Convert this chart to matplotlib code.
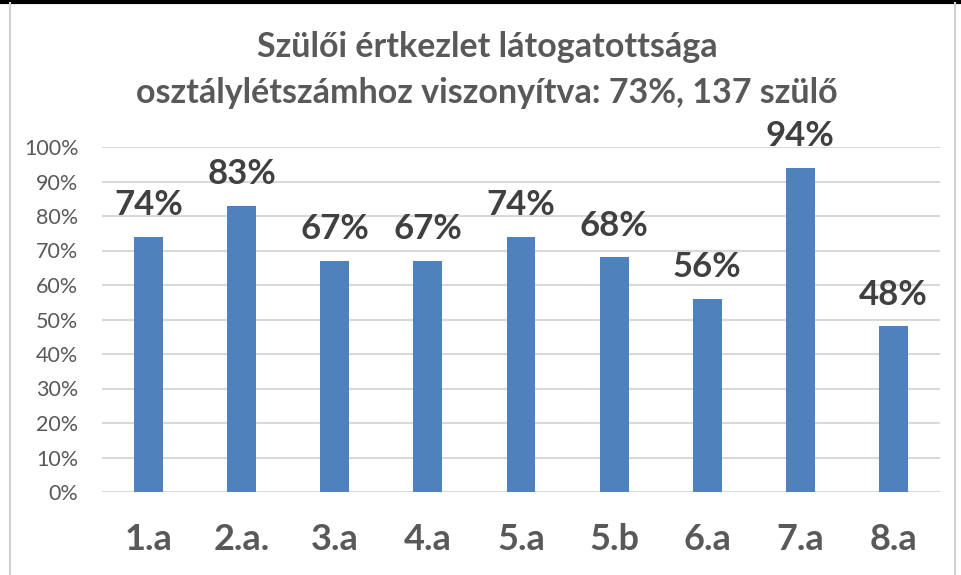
import numpy as np
import matplotlib.pyplot as plt
from matplotlib.lines import Line2D

categories = ['1.a', '2.a.', '3.a', '4.a', '5.a', '5.b', '6.a', '7.a', '8.a']
values = [74, 83, 67, 67, 74, 68, 56, 94, 48]
title_lines = ['Szülői értkezlet látogatottsága',
               'osztálylétszámhoz viszonyítva: 73%, 137 szülő']

plt.rcParams['font.family'] = ['Lato', 'DejaVu Sans']

W, H = 962, 575
fig = plt.figure(figsize=(W / 100, H / 100), dpi=100)
ax = fig.add_axes([102 / W, 1 - 492 / H, 838 / W, 345 / H])

x = np.arange(len(categories))
ax.bar(x, values, width=0.31, color='#4F81BD', zorder=3)
for xi, v in zip(x, values):
    ax.text(xi, v + 6.3, f'{v}%', ha='center', va='baseline',
            fontsize=25, fontweight='bold', color='#404040')

ax.set_xlim(-0.5, len(categories) - 0.5)
ax.set_ylim(0, 100)
ax.set_yticks(range(0, 101, 10))
ax.set_yticklabels([f'{t}%' for t in range(0, 101, 10)], fontsize=15.5, color='#595959')
ax.set_xticks(x)
ax.set_xticklabels(categories, fontsize=26, fontweight='bold', color='#595959')
ax.tick_params(axis='both', length=0)
ax.tick_params(axis='x', pad=22)
ax.tick_params(axis='y', pad=17)
ax.grid(axis='y', color='#D9D9D9', linewidth=1.5, zorder=0)
for s in ax.spines.values():
    s.set_visible(False)

for line, yb in zip(title_lines, [57, 103]):
    fig.text(0.5 + 6 / W, 1 - yb / H, line, ha='center', va='baseline', fontsize=24.5,
             fontweight='bold', color='#595959')

# chart border
fig.add_artist(Line2D([0, 1], [1 - 1.5 / H] * 2, color='black', linewidth=3))
fig.add_artist(Line2D([9.5 / W] * 2, [0, 1 - 3 / H], color='#D0D0D0', linewidth=1.5))
fig.add_artist(Line2D([955 / W] * 2, [0, 1 - 3 / H], color='#D0D0D0', linewidth=1.5))

fig.savefig('out.png', dpi=100)
